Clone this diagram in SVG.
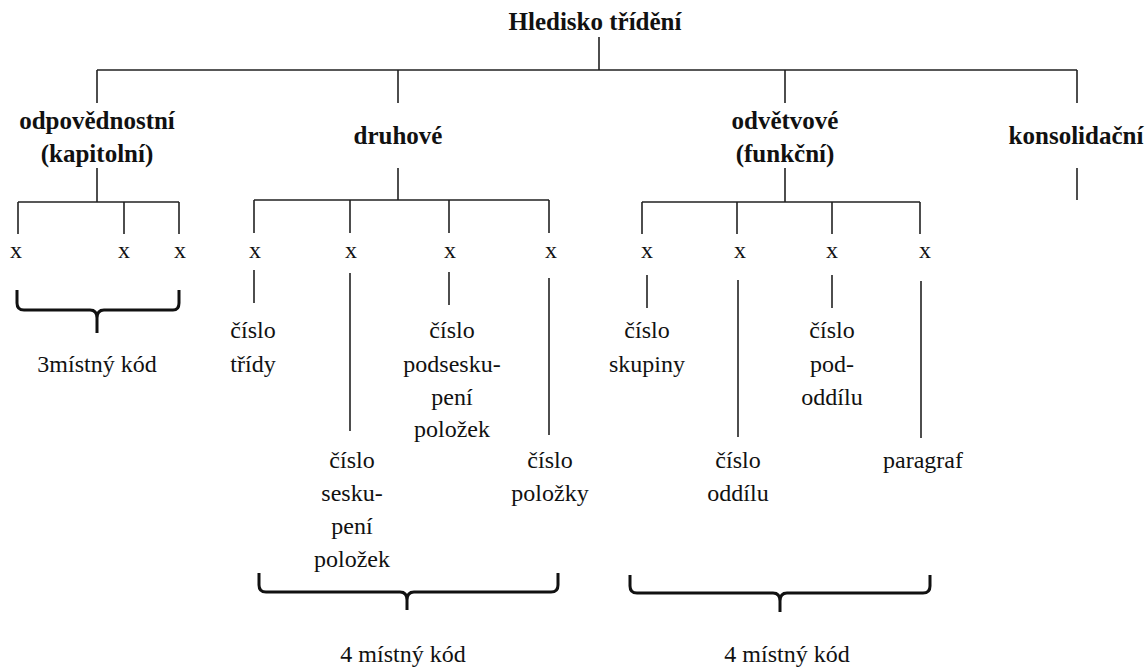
<svg xmlns="http://www.w3.org/2000/svg" width="1147" height="668" viewBox="0 0 1147 668">
<style>
.b{font-family:'Liberation Serif','DejaVu Serif',serif;font-weight:bold;font-size:25px;fill:#111;text-anchor:middle}
.t{font-family:'Liberation Serif','DejaVu Serif',serif;font-size:24px;fill:#111;text-anchor:middle}
.l{stroke:#222;stroke-width:1.6;fill:none}
.br{stroke:#111;stroke-width:3;fill:none;stroke-linejoin:round}
</style>
<rect width="1147" height="668" fill="#fff"/>
<g id="connectors">
<path class="l" d="M599,37V70M97,70H1077M97,70V103M398,70V103M785,70V103M1077,70V103"/>
<path class="l" d="M97,168V202M18,202H179M18,202V234M124,202V234M179,202V234"/>
<path class="l" d="M398,168V200M254,200H549M254,200V233M350,200V233M449,200V233M549,200V233"/>
<path class="l" d="M785,168V202M642,202H920M642,202V234M737,202V234M832,202V234M920,202V234"/>
<path class="l" d="M1077,168V200"/>
<path class="l" d="M254,270V303M350,273V431M449,272V305M549,278V435"/>
<path class="l" d="M647,275V308M738,280V437M832,275V308M921,281V438"/>
</g>
<g id="brace1"><path class="br" d="M17,290V303Q17,310 24,310H90Q97,310 97,318V333M97,318Q97,310 104,310H173Q179,310 179,303V290"/><text class="t" x="97" y="372">3místný kód</text></g>
<g id="brace2"><path class="br" d="M259,573V585Q259,592 266,592H400Q407,592 407,600V610M407,600Q407,592 414,592H551Q558,592 558,585V573"/><text class="t" x="403" y="662">4 místný kód</text></g>
<g id="brace3"><path class="br" d="M630,575V586Q630,593 637,593H773Q780,593 780,601V612M780,601Q780,593 787,593H923Q930,593 930,586V575"/><text class="t" x="787" y="662">4 místný kód</text></g>
<g id="root"><text class="b" x="595" y="30">Hledisko třídění</text></g>
<g id="odpovednostni"><text class="b" x="97" y="129">odpovědnostní</text><text class="b" x="97" y="162">(kapitolní)</text></g>
<g id="druhove"><text class="b" x="398" y="144">druhové</text></g>
<g id="odvetvove"><text class="b" x="785" y="129">odvětvové</text><text class="b" x="785" y="162">(funkční)</text></g>
<g id="konsolidacni"><text class="b" x="1076" y="144">konsolidační</text></g>
<g id="x-labels">
<text class="t" x="16" y="258">x</text><text class="t" x="124" y="258">x</text><text class="t" x="180" y="258">x</text>
<text class="t" x="255" y="258">x</text><text class="t" x="351" y="258">x</text><text class="t" x="450" y="258">x</text><text class="t" x="551" y="258">x</text>
<text class="t" x="647" y="258">x</text><text class="t" x="740" y="258">x</text><text class="t" x="832" y="258">x</text><text class="t" x="925" y="258">x</text>
</g>
<g id="trida"><text class="t" x="253" y="338">číslo</text><text class="t" x="253" y="372">třídy</text></g>
<g id="seskupeni"><text class="t" x="352" y="468">číslo</text><text class="t" x="352" y="501">sesku-</text><text class="t" x="352" y="534">pení</text><text class="t" x="352" y="567">položek</text></g>
<g id="podseskupeni"><text class="t" x="452" y="338">číslo</text><text class="t" x="452" y="372">podsesku-</text><text class="t" x="452" y="405">pení</text><text class="t" x="452" y="437">položek</text></g>
<g id="polozka"><text class="t" x="550" y="468">číslo</text><text class="t" x="550" y="501">položky</text></g>
<g id="skupina"><text class="t" x="647" y="338">číslo</text><text class="t" x="647" y="372">skupiny</text></g>
<g id="oddil"><text class="t" x="738" y="468">číslo</text><text class="t" x="738" y="501">oddílu</text></g>
<g id="pododdil"><text class="t" x="832" y="338">číslo</text><text class="t" x="832" y="372">pod-</text><text class="t" x="832" y="405">oddílu</text></g>
<g id="paragraf"><text class="t" x="923" y="468">paragraf</text></g>
</svg>
